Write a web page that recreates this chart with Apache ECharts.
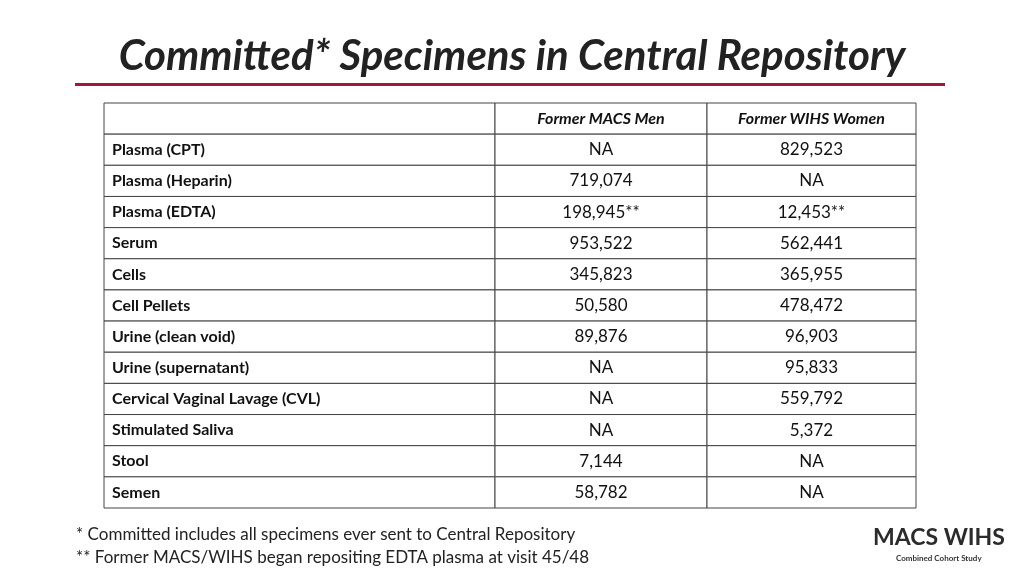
<!DOCTYPE html>
<html><head><meta charset="utf-8">
<script src="https://cdn.jsdelivr.net/npm/echarts@6/dist/echarts.min.js"></script>
<style>html,body{margin:0;padding:0;background:#fff}#c{width:1024px;height:576px}</style>
</head><body><div id="c"></div>
<script>
const headers = ["", "Former MACS Men", "Former WIHS Women"];
const specimens = ["Plasma (CPT)","Plasma (Heparin)","Plasma (EDTA)","Serum","Cells","Cell Pellets","Urine (clean void)","Urine (supernatant)","Cervical Vaginal Lavage (CVL)","Stimulated Saliva","Stool","Semen"];
const macsMen = ["NA","719,074","198,945**","953,522","345,823","50,580","89,876","NA","NA","NA","7,144","58,782"];
const wihsWomen = ["829,523","NA","12,453**","562,441","365,955","478,472","96,903","95,833","559,792","5,372","NA","NA"];

const rows = ["h"].concat(specimens.map((s,i)=>"r"+i));
const colEdges = [0, 391, 603, 812];
const data = [];
headers.forEach((h,c)=>data.push([c,0,h,"h"]));
specimens.forEach((s,i)=>{
  data.push([0,i+1,s,"l"]);
  data.push([1,i+1,macsMen[i],"v"]);
  data.push([2,i+1,wihsWomen[i],"v"]);
});
const chart = echarts.init(document.getElementById('c'));
const F = "Lato, 'Open Sans', sans-serif";
chart.setOption({
  animation:false,
  title:{text:"Committed* Specimens in Central Repository",left:'center',top:30,
    textStyle:{fontFamily:F,fontSize:42,fontWeight:'bold',fontStyle:'italic',color:'#222'}},
  grid:{left:104,top:103,width:812,height:405},
  xAxis:{type:'value',min:0,max:812,show:false},
  yAxis:{type:'category',data:rows,inverse:true,show:false},
  graphic:[
    {type:'rect',shape:{x:75,y:83,width:870,height:3},style:{fill:'#a3173f'}},
    {type:'text',left:76,top:526,style:{text:"* Committed includes all specimens ever sent to Central Repository",font:"17px "+F,fill:'#222'}},
    {type:'text',left:76,top:549,style:{text:"** Former MACS/WIHS began repositing EDTA plasma at visit 45/48",font:"17px "+F,fill:'#222'}},
    {type:'text',left:873,top:526,style:{text:"MACS WIHS",font:"bold 23px "+F,fill:'#2b2b2b'}},
    {type:'text',left:896,top:554,style:{text:"Combined Cohort Study",font:"bold 8px "+F,fill:'#333'}}
  ],
  series:[{type:'custom',data:data,
    renderItem:(params,api)=>{
      const c=api.value(0), r=api.value(1);
      const d=data[params.dataIndex];
      const bh=api.size([0,1])[1];
      const p0=api.coord([colEdges[c],r]);
      const p1=api.coord([colEdges[c+1],r]);
      const y=p0[1]-bh/2, x=p0[0], w=p1[0]-p0[0];
      const kind=d[3];
      const txt={type:'text',style:{text:d[2],fill:'#111',
        font:(kind==='h'?'italic bold 16px ':kind==='l'?'bold 16px ':'17px ')+F,
        x:kind==='l'?x+8:x+w/2,y:y+bh/2,align:kind==='l'?'left':'center',verticalAlign:'middle'}};
      return {type:'group',children:[
        {type:'rect',shape:{x:x,y:y,width:w,height:bh},style:{fill:'#fff',stroke:'#444',lineWidth:1}},
        txt]};
    }}]
});
</script></body></html>
